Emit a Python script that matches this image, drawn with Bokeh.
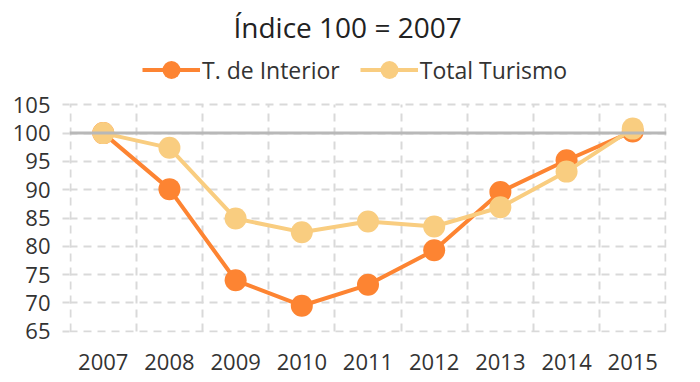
from bokeh.plotting import figure
from bokeh.models import (ColumnDataSource, FixedTicker, Span, Legend, LegendItem,
                          CustomJSTickFormatter)
from bokeh.embed import file_html
from bokeh.resources import INLINE

years = ["2007", "2008", "2009", "2010", "2011", "2012", "2013", "2014", "2015"]
interior = [100.0, 90.1, 74.0, 69.5, 73.2, 79.3, 89.6, 95.2, 100.3]
total = [100.0, 97.4, 84.9, 82.5, 84.4, 83.5, 86.9, 93.2, 100.8]
y_ticks = [65, 70, 75, 80, 85, 90, 95, 100, 105]

ORANGE = "#FD8432"
YELLOW = "#F9CD80"
FONT = "Open Sans"
TXT = "#333333"

idx = list(range(len(years)))
src = ColumnDataSource(dict(x=idx, interior=interior, total=total, year=years))

p = figure(width=700, height=382, output_backend="svg", toolbar_location=None,
           x_range=(-0.51, len(years) - 0.49), y_range=(64.77, 114.6),
           min_border_left=69, min_border_right=34, min_border_bottom=50,
           min_border_top=0)
p.outline_line_color = None
p.background_fill_color = "white"
p.border_fill_color = "white"

# title
p.title.text = "Índice 100 = 2007"
p.title.align = "left"
p.title.offset = 164
p.title.text_font = FONT
p.title.text_font_size = "28px"
p.title.text_font_style = "normal"
p.title.text_color = "#222222"

# grids
p.xgrid.ticker = FixedTicker(ticks=[i - 0.5 for i in range(len(years) + 1)])
p.xgrid.cross_bounds = (y_ticks[0], y_ticks[-1])
p.ygrid.ticker = FixedTicker(ticks=y_ticks)
for g in (p.xgrid, p.ygrid):
    g.grid_line_color = "#d9d9d9"
    g.grid_line_width = 2
    g.grid_line_dash = "8 6"

# y axis
p.yaxis.ticker = FixedTicker(ticks=y_ticks)
p.yaxis.bounds = (y_ticks[0], y_ticks[-1])
p.yaxis.axis_line_color = None
p.yaxis.major_tick_line_color = "#d9d9d9"
p.yaxis.major_tick_line_width = 2
p.yaxis.major_tick_out = 7
p.yaxis.major_tick_in = 0
p.yaxis.minor_tick_line_color = None
p.yaxis.major_label_standoff = 12

# x axis
p.xaxis.ticker = FixedTicker(ticks=idx)
p.xaxis.formatter = CustomJSTickFormatter(args=dict(labels=years),
                                          code="return labels[Math.round(tick)] || '';")
p.xaxis.axis_line_color = None
p.xaxis.major_tick_line_color = None
p.xaxis.minor_tick_line_color = None
p.xaxis.major_tick_out = 0
p.xaxis.major_label_standoff = 21

for ax in (p.xaxis, p.yaxis):
    ax.major_label_text_font = FONT
    ax.major_label_text_font_size = "22px"
    ax.major_label_text_color = TXT

# plot line at 100
p.add_layout(Span(location=100, dimension="width", line_color="#b8b8b8", line_width=3))

l1 = p.line("x", "interior", source=src, line_color=ORANGE, line_width=4)
s1 = p.scatter("x", "interior", source=src, size=22, fill_color=ORANGE, line_color=None)
l2 = p.line("x", "total", source=src, line_color=YELLOW, line_width=4)
s2 = p.scatter("x", "total", source=src, size=22, fill_color=YELLOW, line_color=None)

legend = Legend(items=[LegendItem(label="T. de Interior", renderers=[l1, s1]),
                       LegendItem(label="Total Turismo", renderers=[l2, s2])],
                orientation="horizontal", location=(73, 240),
                glyph_width=58, glyph_height=45, label_standoff=2, spacing=20,
                padding=0, margin=0,
                border_line_color=None, background_fill_alpha=0,
                label_text_font=FONT, label_text_font_size="23px",
                label_text_color=TXT)
p.add_layout(legend, "center")

open("out.html", "w").write(file_html(p, INLINE))
